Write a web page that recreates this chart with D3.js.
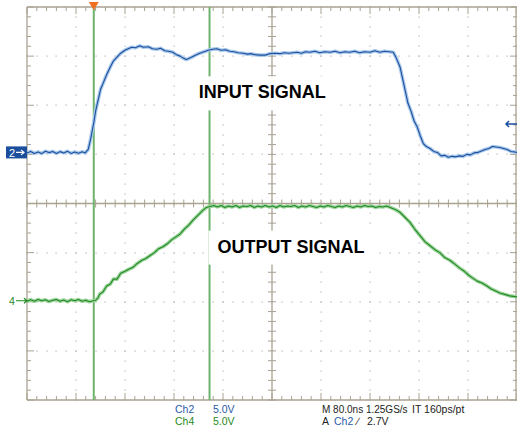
<!DOCTYPE html>
<html><head><meta charset="utf-8">
<script src="https://cdn.jsdelivr.net/npm/d3@7"></script>
<style>html,body{margin:0;padding:0;background:#fff;}svg{display:block;}</style>
</head><body>
<svg id="c" width="517" height="432"></svg>
<script>
// ---- data ----
const timeDomain = [0, 800];            // ns (10 div x 80 ns)
const divDomain = [-4, 4];              // vertical divisions
const ch2VoltsPerDiv = 5.0, ch4VoltsPerDiv = 5.0;
const ch2OffsetDiv = 1.04, ch4OffsetDiv = -1.98;
const cursorTimes = [109, 298];
const triggerTime = 109;
const triggerLevelDiv = 1.62;

const inputTime = [0,6,12,18,24,30,36,42,48,54,60,66,72,78,84,90,95,100,104,109,112,116,120,124,130,136,141,147,153,160,165,171,177,184,190,198,205,212,218,225,231,238,244,250,255,260,264,269,275,282,289,296,303,310,317,324,331,338,345,353,360,366,372,380,389,396,405,413,420,428,434,441,448,455,462,470,478,486,495,503,511,519,527,535,543,551,560,568,576,584,591,598,603,609,615,622,627,632,637,642,647,652,658,664,670,676,682,688,694,700,706,712,718,724,730,736,742,748,754,760,766,772,778,784,790,796,800];
const inputVolts = [-0.05,0.1,-0.1,0.05,-0.12,0.12,-0.02,0.1,-0.1,0.08,-0.05,0.12,-0.1,0.05,-0.08,0.06,-0.05,0.3,1.4,3.0,4.2,5.3,6.4,7.0,7.9,8.7,9.3,9.7,10.1,10.4,10.55,10.7,10.65,10.85,10.7,10.75,10.55,10.5,10.6,10.35,10.3,10.2,9.95,9.8,9.6,9.45,9.55,9.7,9.9,10.1,10.25,10.4,10.5,10.55,10.4,10.45,10.3,10.25,10.15,10.1,10.0,10.05,9.95,9.9,9.9,10.05,10.1,10.05,10.15,10.1,10.15,10.2,10.1,10.25,10.2,10.3,10.15,10.25,10.2,10.3,10.15,10.25,10.2,10.3,10.15,10.25,10.2,10.35,10.2,10.3,10.25,10.2,9.6,8.7,7.0,5.0,4.2,3.2,2.6,1.7,0.9,0.6,0.4,0.1,0.0,-0.35,-0.3,-0.5,-0.4,-0.45,-0.35,-0.4,-0.2,-0.25,-0.05,0.0,0.15,0.3,0.4,0.6,0.55,0.5,0.4,0.3,0.1,0.05,0.0];

const outputTime = [0,6,12,18,24,30,36,42,48,54,60,66,72,78,84,90,96,102,108,112,116,119,124,130,136,141,147,153,160,166,173,180,187,194,201,208,215,222,229,236,243,250,257,264,271,279,287,293,299,305,311,317,323,329,335,341,347,353,359,365,371,377,383,389,395,401,407,413,419,425,431,437,443,449,455,461,467,473,479,485,491,497,503,509,515,521,527,533,539,545,551,557,563,569,575,581,587,593,601,609,617,625,633,642,650,658,666,674,682,691,699,707,714,721,728,735,743,751,758,765,772,780,788,794,800];
const outputVolts = [-0.05,0.1,-0.05,0.12,0.0,0.1,-0.08,0.05,0.12,-0.05,0.08,-0.1,0.1,0.0,0.12,-0.05,0.05,-0.1,0.0,0.05,0.3,0.7,0.9,1.5,1.7,2.2,2.2,2.8,3.0,3.2,3.4,3.8,4.1,4.3,4.6,4.9,5.3,5.5,5.8,6.2,6.5,6.8,7.3,7.7,8.2,8.7,9.2,9.5,9.6,9.7,9.55,9.7,9.5,9.65,9.55,9.7,9.5,9.65,9.6,9.7,9.5,9.65,9.55,9.7,9.55,9.65,9.5,9.7,9.55,9.65,9.6,9.7,9.5,9.65,9.55,9.7,9.6,9.5,9.65,9.55,9.7,9.6,9.5,9.65,9.55,9.7,9.6,9.5,9.65,9.55,9.7,9.6,9.65,9.5,9.6,9.55,9.65,9.5,9.3,9.0,8.5,8.0,7.3,6.6,6.0,5.6,5.2,4.9,4.4,4.1,3.7,3.3,3.0,2.6,2.3,2.0,1.8,1.5,1.2,1.0,0.8,0.65,0.5,0.45,0.4];

const labels = ["INPUT SIGNAL", "OUTPUT SIGNAL"];
const labelPos = [{t: 384, d: 2.14}, {t: 431, d: -1.0}];

// ---- drawing ----
const svg = d3.select("#c");
const x = d3.scaleLinear().domain(timeDomain).range([27, 517]);
const y = d3.scaleLinear().domain(divDomain).range([400, 7]);
const gridCol = "#a9a291", dotCol = "#b5b5b5";

const g = svg.append("g");
const majorX = d3.range(1, 10).map(i => i * 80);
const majorY = d3.range(-3, 4);
const minorX = d3.range(0, 51).map(i => i * 16);
const minorY = d3.range(0, 41).map(i => -4 + i * 0.2);

// dotted grid
majorX.filter(t => t !== 400).forEach(t => {
  minorY.forEach(d => g.append("rect").attr("x", Math.round(x(t)) - 0.5).attr("y", Math.round(y(d)) - 0.5).attr("width", 1.2).attr("height", 1.2).attr("fill", dotCol));
});
majorY.filter(d => d !== 0).forEach(d => {
  minorX.forEach(t => g.append("rect").attr("x", Math.round(x(t)) - 0.5).attr("y", Math.round(y(d)) - 0.5).attr("width", 1.2).attr("height", 1.2).attr("fill", dotCol));
});

// borders
g.append("line").attr("x1", x(0)).attr("x2", x(800)).attr("y1", y(4)).attr("y2", y(4)).attr("stroke", gridCol).attr("stroke-width", 1.3);
g.append("line").attr("x1", x(0)).attr("x2", x(800)).attr("y1", y(-4)).attr("y2", y(-4)).attr("stroke", gridCol).attr("stroke-width", 1.3);
g.append("line").attr("x1", x(0)).attr("x2", x(0)).attr("y1", y(4)).attr("y2", y(-4)).attr("stroke", gridCol).attr("stroke-width", 1.3);
g.append("line").attr("x1", x(800) - 1).attr("x2", x(800) - 1).attr("y1", y(4)).attr("y2", y(-4)).attr("stroke", gridCol).attr("stroke-width", 1.3);
// center axes
g.append("line").attr("x1", x(0)).attr("x2", x(800)).attr("y1", y(0)).attr("y2", y(0)).attr("stroke", gridCol).attr("stroke-width", 1.3);
g.append("line").attr("x1", x(400)).attr("x2", x(400)).attr("y1", y(4)).attr("y2", y(-4)).attr("stroke", gridCol).attr("stroke-width", 1.3);

// ticks
minorX.forEach((t, i) => {
  const big = i % 5 === 0 ? 7 : 4;
  g.append("line").attr("x1", x(t)).attr("x2", x(t)).attr("y1", y(4)).attr("y2", y(4) + big).attr("stroke", gridCol);
  g.append("line").attr("x1", x(t)).attr("x2", x(t)).attr("y1", y(-4)).attr("y2", y(-4) - big).attr("stroke", gridCol);
  g.append("line").attr("x1", x(t)).attr("x2", x(t)).attr("y1", y(0) - 4).attr("y2", y(0) + 4).attr("stroke", gridCol);
});
minorY.forEach((d, i) => {
  const big = i % 5 === 0 ? 7 : 4;
  g.append("line").attr("x1", x(0)).attr("x2", x(0) + big).attr("y1", y(d)).attr("y2", y(d)).attr("stroke", gridCol);
  g.append("line").attr("x1", x(800)).attr("x2", x(800) - big).attr("y1", y(d)).attr("y2", y(d)).attr("stroke", gridCol);
  g.append("line").attr("x1", x(400) - 4).attr("x2", x(400) + 4).attr("y1", y(d)).attr("y2", y(d)).attr("stroke", gridCol);
});

// cursors
cursorTimes.forEach(t => {
  svg.append("line").attr("x1", x(t)).attr("x2", x(t)).attr("y1", y(4)).attr("y2", y(-4)).attr("stroke", "#6db36d").attr("stroke-width", 2);
});

// label boxes
const lblG = svg.append("g");
labels.forEach((s, i) => {
  const p = labelPos[i];
  const tx = lblG.append("text").attr("x", x(p.t)).attr("y", y(p.d)).attr("text-anchor", "middle")
    .attr("font-family", "Liberation Sans, Arial, sans-serif").attr("font-weight", "bold").attr("font-size", 18).attr("fill", "#000").text(s);
  const bb = tx.node().getBBox();
  lblG.insert("rect", "text").attr("x", bb.x - 9).attr("y", bb.y - 6).attr("width", bb.width + 22).attr("height", bb.height + 14).attr("fill", "#fff");
});

// traces
function trace(times, volts, off, vpd, halo, col) {
  const line = d3.line().x((d, i) => x(times[i])).y(d => y(off + d / vpd));
  svg.append("path").datum(volts).attr("d", line).attr("fill", "none").attr("stroke", halo).attr("stroke-width", 3.6).attr("stroke-linejoin", "round");
  svg.append("path").datum(volts).attr("d", line).attr("fill", "none").attr("stroke", col).attr("stroke-width", 1.1).attr("stroke-linejoin", "round");
}
trace(inputTime, inputVolts, ch2OffsetDiv, ch2VoltsPerDiv, "#a9c8ea", "#1b4f9e");
trace(outputTime, outputVolts, ch4OffsetDiv, ch4VoltsPerDiv, "#9fd49f", "#1f8a22");

// trigger marker
const tx0 = x(triggerTime);
svg.append("path").attr("d", `M${tx0 - 5},2 L${tx0 + 5},2 L${tx0},10 Z`).attr("fill", "#f07020");

// ch2 marker
const y2 = y(ch2OffsetDiv);
svg.append("rect").attr("x", 6).attr("y", y2 - 6).attr("width", 21).attr("height", 12).attr("fill", "#1b4f9e");
svg.append("text").attr("x", 9).attr("y", y2 + 4.5).attr("font-family", "Liberation Sans, Arial, sans-serif").attr("font-size", 11).attr("fill", "#fff").text("2");
svg.append("path").attr("d", `M16,${y2} L24,${y2} M21,${y2 - 2.5} L24,${y2} L21,${y2 + 2.5}`).attr("stroke", "#fff").attr("stroke-width", 1.2).attr("fill", "none");

// ch4 marker
const y4 = y(ch4OffsetDiv);
svg.append("text").attr("x", 9).attr("y", y4 + 4).attr("font-family", "Liberation Sans, Arial, sans-serif").attr("font-size", 10.5).attr("fill", "#1f8a22").text("4");
svg.append("path").attr("d", `M16,${y4} L27,${y4} M24,${y4 - 2.5} L27,${y4} L24,${y4 + 2.5}`).attr("stroke", "#1f8a22").attr("stroke-width", 1.2).attr("fill", "none");

// trigger level arrow (right)
const yt = y(triggerLevelDiv);
svg.append("path").attr("d", `M517,${yt} L506,${yt} M509,${yt - 3} L506,${yt} L509,${yt + 3}`).attr("stroke", "#1b4f9e").attr("stroke-width", 1.5).attr("fill", "none");

// readout text
const ff = "Liberation Sans, Arial, sans-serif";
function txt(xp, yp, s, col, fs) {
  svg.append("text").attr("x", xp).attr("y", yp).attr("font-family", ff).attr("font-size", fs || 10.5).attr("fill", col).text(s);
}
txt(175, 413, "Ch2", "#2a5ca8");
txt(213, 413, "5.0V", "#2a5ca8");
txt(175, 425, "Ch4", "#1f8a22");
txt(213, 425, "5.0V", "#1f8a22");
txt(322, 413, "M 80.0ns 1.25GS/s", "#222", 10);
txt(412, 413, "IT 160ps/pt", "#222");
txt(322, 425, "A", "#222");
txt(334, 425, "Ch2", "#2a5ca8");
txt(357, 425, "\u2215", "#222");
txt(367, 425, "2.7V", "#222");
</script>
</body></html>
